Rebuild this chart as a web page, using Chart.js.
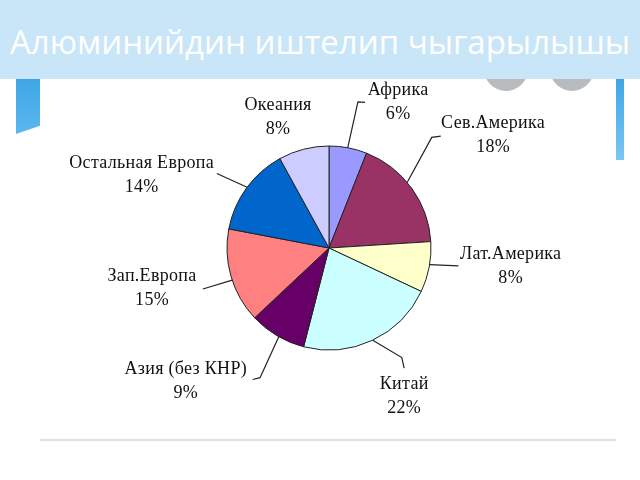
<!DOCTYPE html>
<html><head><meta charset="utf-8">
<script src="https://cdn.jsdelivr.net/npm/chart.js@4"></script>
<style>
html,body{margin:0;padding:0;width:640px;height:480px;overflow:hidden;background:#fff;}
#wrap{position:relative;width:640px;height:480px;}
.circ{position:absolute;width:44px;height:44px;border-radius:50%;background:#b9bcbf;}
#band{position:absolute;left:0;top:0;width:640px;height:79px;background:#c8e6f8;}
#title{position:absolute;left:0;top:0;width:640px;height:79px;line-height:84px;text-align:center;color:#fff;font-family:'Open Sans';font-size:33px;white-space:nowrap;}
#tabL{position:absolute;left:16px;top:79px;width:24px;height:55px;background:linear-gradient(#3ea6e6,#5cb8ee);clip-path:polygon(0 0,100% 0,100% 85%,0 100%);}
#stripR{position:absolute;left:616px;top:79px;width:8px;height:81px;background:linear-gradient(#3ea6e6,#7cc6f2);}
#rule{position:absolute;left:40px;top:439px;width:576px;height:2px;background:#e0e0e0;}
canvas{position:absolute;left:0;top:0;}
</style></head>
<body><div id="wrap">
<div class="circ" style="left:484px;top:47px"></div>
<div class="circ" style="left:550px;top:47px"></div>
<div id="band"></div>
<div id="title">Алюминийдин иштелип чыгарылышы</div>
<div id="tabL"></div>
<div id="stripR"></div>
<div id="rule"></div>
<canvas id="c" width="640" height="480" style="width:640px;height:480px"></canvas>
</div>
<script>
const categories = ['Африка','Сев.Америка','Лат.Америка','Китай','Азия (без КНР)','Зап.Европа','Остальная Европа','Океания'];
const shares = [6,18,8,22,9,15,14,8];
const pctLabels = shares.map(v => v + '%');
const sliceColors = ['#9999ff','#993366','#ffffcc','#ccffff','#660066','#ff8080','#0066cc','#ccccff'];

// label placement: polar (angle clockwise from top in degrees, distance in radius units)
const labelLayout = [
  {a:25.4, d:1.58, leader:[[10.6,1.0],[11.2,1.46],[13.9,1.47]]},
  {a:55.6, d:1.95, leader:[[50,1.0],[42.9,1.48],[45,1.55]]},
  {a:95.8, d:1.79, leader:[[99.4,1.0],[97.9,1.28]]},
  {a:153.1,d:1.63, leader:[[154.6,1.0],[146.4,1.29],[148,1.39]]},
  {a:227.0,d:1.92, leader:[[209.5,1.0],[208,1.44],[210.1,1.49]]},
  {a:257.1,d:1.78, leader:[[251.6,1.0],[252,1.30]]},
  {a:291.2,d:1.97, leader:[[306.6,1.0],[303.6,1.32]]},
  {a:338.8,d:1.38, leader:[]}
];

const labelPlugin = {
  id:'sliceLabels',
  afterDatasetsDraw(chart){
    const ctx = chart.ctx;
    const meta = chart.getDatasetMeta(0);
    ctx.save();
    meta.data.forEach((arc,i)=>{
      const p = arc.getProps(['x','y','outerRadius'], true);
      const P = (a,d)=>{const t=(a-90)*Math.PI/180; return [p.x+Math.cos(t)*d*p.outerRadius, p.y+Math.sin(t)*d*p.outerRadius];};
      const L = labelLayout[i];
      if (L.leader.length){
        ctx.beginPath();
        L.leader.forEach((pt,k)=>{const [lx,ly]=P(pt[0],pt[1]); if(k===0)ctx.moveTo(lx,ly); else ctx.lineTo(lx,ly);});
        ctx.strokeStyle='#222'; ctx.lineWidth=1.2; ctx.stroke();
      }
      const [tx,ty] = P(L.a,L.d);
      ctx.fillStyle='#111';
      ctx.font='18px "Liberation Serif"';
      if ('letterSpacing' in ctx) ctx.letterSpacing='0.3px';
      ctx.textAlign='center'; ctx.textBaseline='middle';
      ctx.fillText(categories[i], tx, ty-12);
      ctx.fillText(pctLabels[i], tx, ty+12);
    });
    ctx.restore();
  }
};

new Chart(document.getElementById('c'), {
  type:'pie',
  data:{labels:categories, datasets:[{data:shares, backgroundColor:sliceColors, borderColor:'#222', borderWidth:1}]},
  options:{
    responsive:false, animation:false,
    layout:{padding:{left:226.5,right:208.5,top:145.5,bottom:129.5}},
    plugins:{legend:{display:false}, tooltip:{enabled:false}, title:{display:false}}
  },
  plugins:[labelPlugin]
});
</script>
</body></html>
